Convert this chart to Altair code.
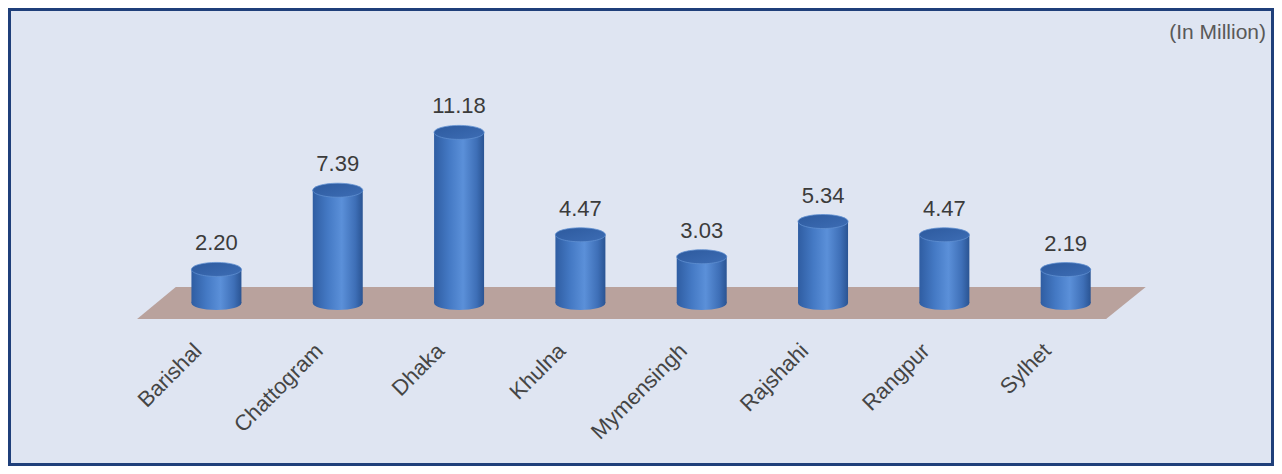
import altair as alt
import pandas as pd

# ---- data ----
divisions = ["Barishal", "Chattogram", "Dhaka", "Khulna", "Mymensingh",
             "Rajshahi", "Rangpur", "Sylhet"]
population = [2.20, 7.39, 11.18, 4.47, 3.03, 5.34, 4.47, 2.19]
unit_note = "(In Million)"

# floor plate (in data units: category index / value)
floor_x = [-0.654, -0.335, 7.333, 7.660]
floor_top = [-1.05, 1.05, 1.05, 1.05]
floor_bottom = [-1.05, -1.05, -1.05, 1.05]
label_level = -2.16

df = pd.DataFrame({
    "division": divisions,
    "value": population,
    "idx": list(range(len(divisions))),
})
df["base"] = 0.0
df["text"] = [f"{v:.2f}" for v in population]
df["lab_y"] = label_level

floor = pd.DataFrame({"x": floor_x, "y": floor_top, "y2": floor_bottom})

FONT = "Liberation Sans"
xs = alt.Scale(domain=[-1.652, 8.651], nice=False, zero=False)
ys = alt.Scale(domain=[-10.485, 19.135], nice=False, zero=False)

ELLIPSE = ("M -1 0 C -1 -0.1546 -0.5523 -0.28 0 -0.28 "
           "C 0.5523 -0.28 1 -0.1546 1 0 "
           "C 1 0.1546 0.5523 0.28 0 0.28 "
           "C -0.5523 0.28 -1 0.1546 -1 0 Z")

body_grad = alt.LinearGradient(
    gradient="linear", x1=0, x2=1, y1=0, y2=0,
    stops=[
        alt.GradientStop(color="#2f5da2", offset=0.0),
        alt.GradientStop(color="#4479c4", offset=0.3),
        alt.GradientStop(color="#5b90d9", offset=0.58),
        alt.GradientStop(color="#3e6fb7", offset=0.85),
        alt.GradientStop(color="#2a5493", offset=1.0),
    ],
)
top_grad = alt.LinearGradient(
    gradient="linear", x1=0, x2=1, y1=0, y2=1,
    stops=[
        alt.GradientStop(color="#2d5a9e", offset=0.0),
        alt.GradientStop(color="#3d6db5", offset=1.0),
    ],
)

X = alt.X("idx:Q", scale=xs, axis=None)

floor_layer = alt.Chart(floor).mark_area(
    orient="vertical", color="#b9a29d", opacity=1
).encode(
    x=alt.X("x:Q", scale=xs, axis=None),
    y=alt.Y("y:Q", scale=ys, axis=None),
    y2="y2:Q",
)

base = alt.Chart(df)

bottom_ell = base.mark_point(
    shape=ELLIPSE, size=2500, filled=True, fill=body_grad, opacity=1,
    strokeWidth=0
).encode(x=X, y=alt.Y("base:Q", scale=ys, axis=None))

body = base.mark_bar(size=50, orient="vertical", color=body_grad).encode(
    x=X,
    y=alt.Y("value:Q", scale=ys, axis=None),
    y2="base:Q",
)

top_ell = base.mark_point(
    shape=ELLIPSE, size=2500, filled=True, fill=top_grad, opacity=1,
    stroke="#5f8fd0", strokeWidth=0.8
).encode(x=X, y=alt.Y("value:Q", scale=ys, axis=None))

value_text = base.mark_text(
    dy=-19, baseline="alphabetic", align="center", fontSize=22,
    font=FONT, color="#3b3b3b"
).encode(x=X, y=alt.Y("value:Q", scale=ys, axis=None), text="text:N")

cat_text = base.mark_text(
    angle=315, align="right", baseline="middle", dx=-21, dy=-5, fontSize=22,
    font=FONT, color="#454545"
).encode(x=X, y=alt.Y("lab_y:Q", scale=ys, axis=None), text="division:N")

note = alt.Chart(pd.DataFrame({"t": [unit_note]})).mark_text(
    align="right", baseline="middle", fontSize=21, font=FONT, color="#595959"
).encode(x=alt.value(1255), y=alt.value(22), text="t:N")

chart = alt.layer(
    floor_layer, bottom_ell, body, top_ell, value_text, cat_text, note
).properties(
    width=1260, height=452,
    autosize=alt.AutoSizeParams(type="none"),
    padding=3,
    background="#1f3f7a",
).configure_view(fill="#dfe5f2", stroke=None)

chart.save("out.html", embed_options={"renderer": "svg", "actions": False})
